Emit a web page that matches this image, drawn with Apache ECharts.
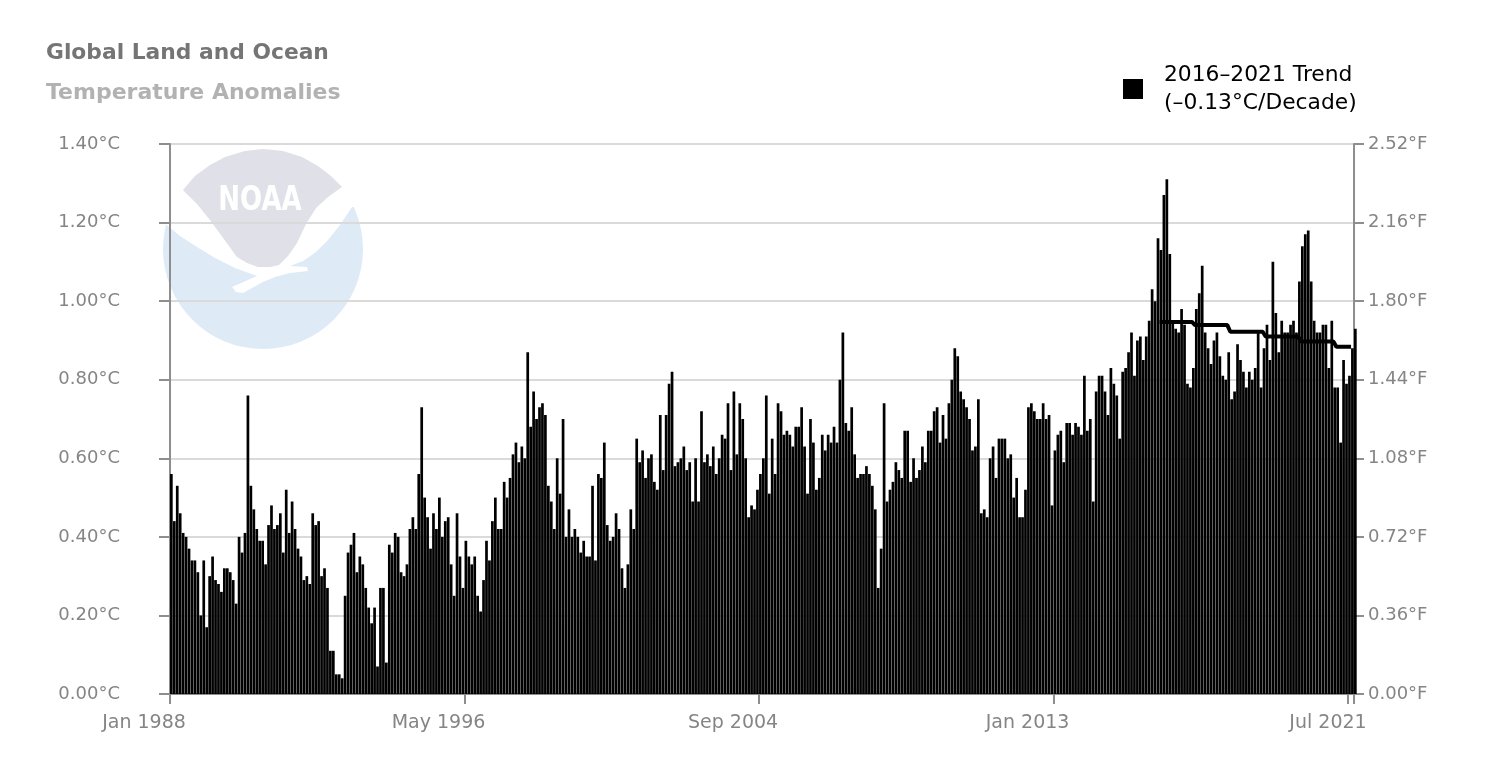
<!DOCTYPE html>
<html style="height: 100%">
<head>
  <meta charset="utf-8" />
  <title>Global Land and Ocean Temperature Anomalies</title>
  <script src="https://cdn.jsdelivr.net/npm/echarts@6/dist/echarts.min.js"></script>
</head>
<body style="height: 100%; margin: 0; background: #fff">
  <div id="chart" style="width: 1502px; height: 770px"></div>
  <script>
    // monthly anomaly in deg C, Jan 1988 .. Jul 2021
    const anomalies1988 = [.56,.44,.53,.46,.41,.40,.37,.34,.34,.31,.20,.34,.17,.30,.35,.29,.28,.26,.32,.32,.31,.29,.23,.40,.36,.41,.76,.53,.47,.42,.39,.39,.33,.43,.48,.42,.43,.46,.36,.52,.41,.49,.42,.37,.35,.29,.30,.28,.46,.43,.44,.30,.32,.27,.11,.11,.05,.05,.04,.25,.36,.38,.41,.31,.35,.33,.27,.22,.18,.22,.07,.27,.27,.08,.38,.36,.41,.40,.31,.30,.33,.42,.45,.42,.56,.73,.50,.45,.37,.46,.42,.50,.40,.44,.45,.33,.25,.46,.35,.27];
    const anomalies1996 = [.39,.35,.33,.35,.25,.21,.29,.39,.34,.44,.50,.42,.42,.54,.50,.55,.61,.64,.59,.63,.60,.87,.68,.77,.70,.73,.74,.71,.53,.49,.42,.60,.51,.70,.40,.47,.40,.42,.40,.36,.39,.35,.35,.53,.34,.56,.55,.64,.43,.39,.40,.46,.42,.32,.27,.33,.47,.42,.65,.59,.62,.55,.60,.61,.54,.52,.71,.57,.71,.79,.82,.58,.59,.60,.63,.57,.59,.49,.60,.49,.72,.59,.61,.58,.63,.56,.60,.66,.65,.74,.57,.77,.61,.74,.70,.60,.45,.48,.47,.52];
    const anomalies2004 = [.56,.60,.76,.51,.65,.56,.74,.72,.66,.67,.66,.63,.68,.68,.73,.63,.51,.70,.64,.52,.55,.66,.62,.66,.64,.68,.64,.80,.92,.69,.67,.73,.61,.55,.56,.56,.58,.56,.53,.47,.27,.37,.74,.49,.52,.54,.59,.57,.55,.67,.67,.54,.60,.55,.57,.63,.59,.67,.67,.72,.73,.64,.71,.65,.74,.80,.88,.86,.77,.75,.73,.70,.62,.63,.75,.46,.47,.45,.60,.63,.55,.65,.65,.65,.60,.61,.50,.55,.45,.45,.52,.73,.74,.72,.70,.70,.74,.70,.71,.48];
    const anomalies2013 = [.62,.66,.67,.59,.69,.69,.66,.69,.68,.66,.81,.67,.70,.49,.77,.81,.81,.77,.71,.83,.79,.76,.65,.82,.83,.87,.92,.81,.90,.91,.85,.91,.95,1.03,1.00,1.16,1.13,1.27,1.31,1.12,.95,.93,.92,.98,.94,.79,.78,.83,.98,1.02,1.09,.92,.88,.84,.90,.92,.86,.81,.80,.87,.75,.77,.89,.85,.82,.78,.82,.80,.83,.92,.78,.88,.94,.85,1.10,.97,.87,.95,.92,.92,.94,.95,.92,1.05,1.14,1.17,1.18,1.05,.95,.92,.92,.94,.94,.83,.95,.78,.78,.64,.85,.79,.81,.88,.93];
    const anomalies = [...anomalies1988, ...anomalies1996, ...anomalies2004, ...anomalies2013];

    // trend line, Jan 2016 .. Jun 2021 (starts at index 336)
    const trend2016 = [.947,.947,.947,.947,.947,.947,.947,.947,.947,.947,.947,.947];
    const trend2017 = [.939,.939,.939,.939,.939,.939,.939,.939,.939,.939,.939,.939];
    const trend2018 = [.922,.922,.922,.922,.922,.922,.922,.922,.922,.922,.922,.922];
    const trend2019 = [.91,.91,.91,.91,.91,.91,.91,.91,.91,.91,.91,.91];
    const trend2020 = [.897,.897,.897,.897,.897,.897,.897,.897,.897,.897,.897,.897];
    const trend2021 = [.884,.884,.884,.884,.884,.884];
    const trendValues = [...Array(336).fill(null), ...trend2016, ...trend2017, ...trend2018, ...trend2019, ...trend2020, ...trend2021];

    const monthNames = ['Jan','Feb','Mar','Apr','May','Jun','Jul','Aug','Sep','Oct','Nov','Dec'];
    const months = anomalies.map((v, i) => monthNames[i % 12] + ' ' + (1988 + Math.floor(i / 12)));
    const labelMonths = ['Jan 1988', 'May 1996', 'Sep 2004', 'Jan 2013', 'Jul 2021'];
    const tickMonths = [...labelMonths, 'May 2021'];

    const trendName = '2016\u20132021 Trend\n(\u20130.13\u00b0C/Decade)';
    const font = '"DejaVu Sans", sans-serif';
    const axisGrey = '#8e8e8e';

    var chart = echarts.init(document.getElementById('chart'));

    chart.setOption({
      animation: false,
      backgroundColor: '#fff',
      title: {
        text: 'Global Land and Ocean',
        subtext: 'Temperature Anomalies',
        left: 46,
        top: 42,
        itemGap: 18,
        padding: 0,
        textStyle: { fontFamily: font, fontWeight: 'bold', fontSize: 21.8, color: '#757575' },
        subtextStyle: { fontFamily: font, fontWeight: 'bold', fontSize: 22, color: '#b2b2b2' }
      },
      legend: {
        data: [trendName],
        left: 1123,
        top: 60,
        padding: 0,
        itemWidth: 20,
        itemHeight: 20,
        itemGap: 0,
        icon: 'rect',
        selectedMode: false,
        textStyle: { fontFamily: font, fontSize: 21.8, color: '#000', lineHeight: 28, padding: [2, 0, 0, 16] }
      },
      grid: { left: 170, right: 148, top: 144, bottom: 76 },
      // NOAA watermark behind the plot
      graphic: [
        { type: 'circle', z: -10, silent: true, shape: { cx: 263, cy: 249, r: 100 }, style: { fill: '#deebf6' } },
        { type: 'polygon', z: -9, silent: true,
          shape: { points: [[150,222],[163,222],[180,236],[197,247],[215,258],[235,268],[257,276],[232,287],[236,292],[243,293],[252,288],[263,282],[275,277],[290,273],[308,271],[307,267],[290,266],[303,261],[316,252],[328,240],[340,225],[352,207],[380,207],[380,140],[150,140]] },
          style: { fill: '#fff' } },
        { type: 'polygon', z: -8, silent: true,
          shape: { points: [[183,190],[195,176],[210,165],[225,157],[245,151],[263,149],[283,151],[302,157],[318,166],[331,176],[342,187],[328,197],[316,208],[306,224],[297,243],[288,256],[279,265],[270,267],[258,267],[247,263],[237,257],[226,242],[210,220],[197,204]] },
          style: { fill: '#dfe0e8' } },
        { type: 'text', z: -7, silent: true, x: 260, y: 201, scaleY: 1.3,
          style: { text: 'NOAA', fill: '#fff', fontFamily: font, fontWeight: 'bold', fontSize: 26, align: 'center', verticalAlign: 'middle' } }
      ],
      xAxis: {
        type: 'category',
        data: months,
        boundaryGap: false,
        axisLine: { lineStyle: { color: axisGrey, width: 2 } },
        axisTick: {
          length: 10,
          lineStyle: { color: axisGrey, width: 2 },
          interval: (i, name) => tickMonths.includes(name)
        },
        axisLabel: {
          interval: (i, name) => labelMonths.includes(name),
          margin: 20,
          padding: [0, 52, 0, 0],
          fontFamily: font,
          fontSize: 19,
          color: '#858585'
        },
        splitLine: { show: false }
      },
      yAxis: [
        {
          type: 'value',
          min: 0,
          max: 1.4,
          interval: 0.2,
          axisLine: { show: true, lineStyle: { color: axisGrey, width: 2 } },
          axisTick: { show: true, length: 11, lineStyle: { color: axisGrey, width: 2 } },
          axisLabel: { formatter: v => v.toFixed(2) + '\u00b0C', margin: 50, verticalAlign: 'middle', lineHeight: 22, padding: [8, 0, 0, 0], fontFamily: font, fontSize: 18, color: '#858585' },
          splitLine: { lineStyle: { color: '#dadada', width: 2 } }
        },
        {
          type: 'value',
          min: 0,
          max: 2.52,
          interval: 0.36,
          position: 'right',
          axisLine: { show: true, lineStyle: { color: axisGrey, width: 2 } },
          axisTick: { show: true, length: 10, lineStyle: { color: axisGrey, width: 2 } },
          axisLabel: { formatter: v => v.toFixed(2) + '\u00b0F', margin: 14, verticalAlign: 'middle', lineHeight: 22, padding: [8, 0, 0, 0], fontFamily: font, fontSize: 18, color: '#858585' },
          splitLine: { show: false }
        }
      ],
      series: [
        // empty neighbour: pushes the real bars to the right of their tick, as in the original
        { name: 'spacer', type: 'bar', data: [], barWidth: 2.7, barGap: '0%', silent: true },
        {
          name: 'Anomaly',
          type: 'bar',
          data: anomalies,
          barWidth: 2.7,
          barGap: '0%',
          clip: false,
          itemStyle: { color: '#000' },
          silent: true
        },
        {
          name: trendName,
          type: 'line',
          data: trendValues,
          showSymbol: false,
          itemStyle: { color: '#000' },
          lineStyle: { color: '#000', width: 4 },
          z: 5,
          silent: true
        }
      ]
    });
  </script>
</body>
</html>
